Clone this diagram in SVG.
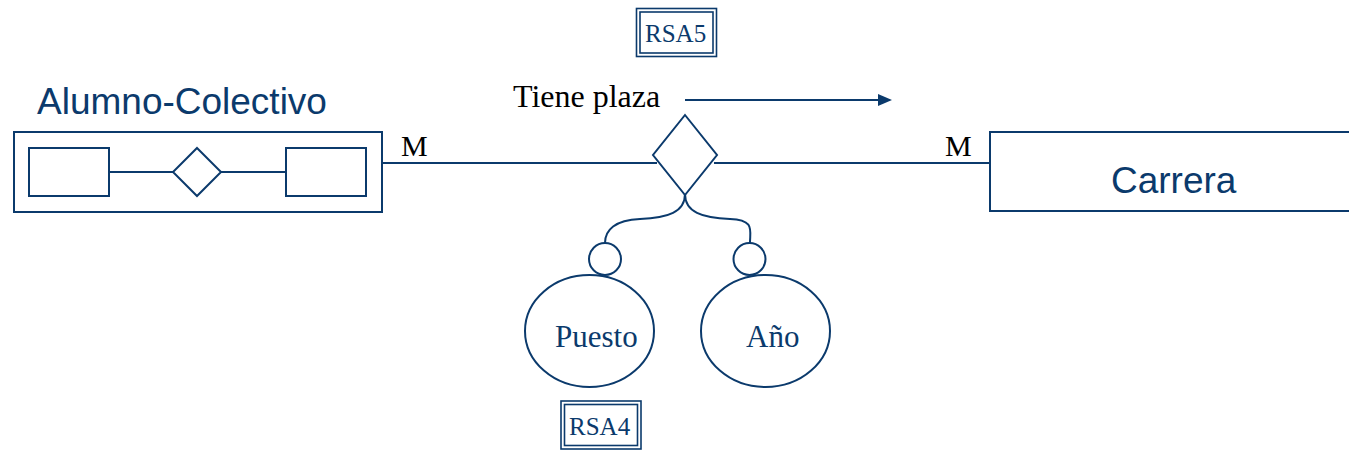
<svg xmlns="http://www.w3.org/2000/svg" width="1349" height="451" viewBox="0 0 1349 451">
<style>
.s{fill:none;stroke:#0b3a6c;stroke-width:2}
.w{fill:#fff;stroke:#0b3a6c;stroke-width:2}
.d{fill:none;stroke:#0b3a6c;stroke-width:1.6}
.sans{font-family:"Liberation Sans",Arial,sans-serif;font-size:37px;fill:#0b3a6c}
.ser{font-family:"Liberation Serif","Times New Roman",serif;font-size:30px;fill:#000}
.blu{fill:#0b3a6c;font-size:31px}
.tag{font-family:"Liberation Serif","Times New Roman",serif;font-size:25px;fill:#0b3a6c}
</style>
<rect width="1349" height="451" fill="#fff"/>
<g id="connectors">
<line class="s" x1="382" y1="163" x2="657" y2="163"/>
<line class="s" x1="714" y1="163" x2="990" y2="163"/>
<path class="s" d="M685,194 C685,212 668,218 640,219 C615,220 605,230 605,243"/>
<path class="s" d="M685,194 C685,212 702,218 730,219 C755,220 750,230 750,243"/>
<line class="s" x1="685" y1="100" x2="880" y2="100"/>
<path d="M878,94 L892,100 L878,106 Z" fill="#0b3a6c"/>
</g>
<g id="alumno-colectivo">
<text class="sans" x="37" y="114">Alumno-Colectivo</text>
<rect class="w" x="14" y="132" width="368" height="80"/>
<rect class="s" x="29" y="148" width="80" height="48"/>
<rect class="s" x="286" y="148" width="80" height="48"/>
<line class="s" x1="109" y1="172" x2="173" y2="172"/>
<line class="s" x1="221" y1="172" x2="286" y2="172"/>
<path class="s" d="M197,148 L221,172 L197,196 L173,172 Z"/>
</g>
<g id="m-left"><text class="ser" x="401" y="156">M</text></g>
<g id="m-right"><text class="ser" x="945" y="156">M</text></g>
<g id="carrera">
<rect class="w" x="990" y="132" width="370" height="79"/>
<text class="sans" x="1111" y="193">Carrera</text>
</g>
<g id="tiene-plaza">
<path class="w" d="M685,115 L717,155 L685,195 L653,155 Z"/>
<text class="ser" x="513" y="107" style="font-size:32px">Tiene plaza</text>
</g>
<g id="rsa5">
<rect class="d" x="636.5" y="8.5" width="80" height="48"/>
<rect class="d" x="640" y="12" width="73" height="41"/>
<text class="tag" x="645" y="42">RSA5</text>
</g>
<g id="puesto">
<circle class="w" cx="605" cy="259" r="16"/>
<ellipse class="w" cx="589.5" cy="331" rx="64.5" ry="56"/>
<text class="ser blu" x="555" y="347">Puesto</text>
</g>
<g id="anio">
<circle class="w" cx="749.5" cy="259" r="16"/>
<ellipse class="w" cx="765.5" cy="331" rx="64.5" ry="56"/>
<text class="ser blu" x="746" y="347">Año</text>
</g>
<g id="rsa4">
<rect class="d" x="561" y="401" width="80" height="48"/>
<rect class="d" x="564.5" y="404.5" width="73" height="41"/>
<text class="tag" x="569" y="435">RSA4</text>
</g>
</svg>
